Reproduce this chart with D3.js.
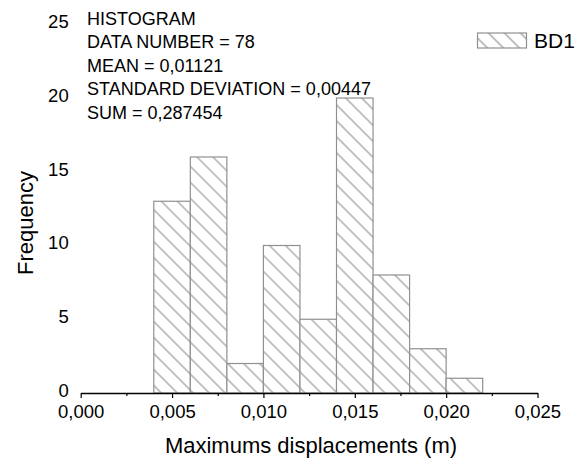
<!DOCTYPE html>
<html>
<head>
<meta charset="utf-8">
<script src="https://cdn.jsdelivr.net/npm/d3@7/dist/d3.min.js"></script>
<style>
  html, body { margin: 0; padding: 0; background: #fff; }
  svg { display: block; }
  text { font-family: "Liberation Sans", Arial, Helvetica, sans-serif; fill: #000; }
</style>
</head>
<body>
<svg id="chart" width="587" height="462"></svg>
<script>
// Histogram of maximum displacements: bin edges and counts per bin
const binEdges = [0.004, 0.006, 0.008, 0.010, 0.012, 0.014, 0.016, 0.018, 0.020, 0.022];
const binCounts = [13, 16, 2, 10, 5, 20, 8, 3, 1];
const seriesName = "BD1";

// Axis ticks
const xTicks = [0, 0.005, 0.010, 0.015, 0.020, 0.025];
const xMinorTicks = [0.0025, 0.0075, 0.0125, 0.0175, 0.0225];
const yTicks = [0, 5, 10, 15, 20, 25];

// Summary statistics block
const statLines = [
  "HISTOGRAM",
  "DATA NUMBER = 78",
  "MEAN = 0,01121",
  "STANDARD DEVIATION = 0,00447",
  "SUM = 0,287454"
];

const xTitle = "Maximums displacements (m)";
const yTitle = "Frequency";

const svg = d3.select("#chart");

const x = d3.scaleLinear().domain([0, 0.025]).range([80.7, 537.5]);
const y = d3.scaleLinear().domain([0, 25]).range([393, 24.25]);

// Diagonal hatch fill
const defs = svg.append("defs");
const hatch = defs.append("pattern")
  .attr("id", "hatch")
  .attr("patternUnits", "userSpaceOnUse")
  .attr("width", 11.3)
  .attr("height", 11.3)
  .attr("patternTransform", "rotate(-45)");
hatch.append("rect").attr("width", 11.3).attr("height", 11.3).attr("fill", "#fff");
hatch.append("line")
  .attr("x1", 5.65).attr("y1", 0).attr("x2", 5.65).attr("y2", 11.3)
  .attr("stroke", "#666").attr("stroke-width", 0.8);

// Bars
const bins = binCounts.map((c, i) => ({ x0: binEdges[i], x1: binEdges[i + 1], count: c }));
svg.append("g").selectAll("rect")
  .data(bins)
  .join("rect")
  .attr("x", d => x(d.x0))
  .attr("y", d => y(d.count))
  .attr("width", d => x(d.x1) - x(d.x0))
  .attr("height", d => y(0) - y(d.count))
  .attr("fill", "url(#hatch)")
  .attr("stroke", "#909090")
  .attr("stroke-width", 1.2);

// X axis: major ticks with labels, minor ticks without
const fmt = d => d3.format(".3f")(d).replace(".", ",");
const xAxis = svg.append("g")
  .attr("transform", `translate(0,${y(0)})`)
  .call(d3.axisBottom(x).tickValues(xTicks).tickSize(5).tickSizeOuter(0).tickPadding(6.8).tickFormat(fmt));
xAxis.select(".domain").attr("stroke", "#000").attr("stroke-width", 1.4);
xAxis.selectAll(".tick line").attr("stroke", "#000").attr("stroke-width", 1.2);
xAxis.selectAll("text").attr("font-size", 18.5).style("font-family", "'Liberation Sans', Arial, sans-serif");

const xMinor = svg.append("g")
  .attr("transform", `translate(0,${y(0)})`)
  .call(d3.axisBottom(x).tickValues(xMinorTicks).tickSize(3).tickSizeOuter(0).tickFormat(""));
xMinor.select(".domain").remove();
xMinor.selectAll(".tick line").attr("stroke", "#000").attr("stroke-width", 1.2);

// Y axis: labels only
const yAxis = svg.append("g")
  .attr("transform", `translate(${x(0)},0)`)
  .call(d3.axisLeft(y).tickValues(yTicks).tickSize(0).tickPadding(12));
yAxis.select(".domain").remove();
yAxis.selectAll("text")
  .attr("dy", "0.18em")
  .attr("font-size", 18.5)
  .style("font-family", "'Liberation Sans', Arial, sans-serif");

// Axis titles
svg.append("text")
  .attr("x", 311).attr("y", 453)
  .attr("text-anchor", "middle")
  .attr("font-size", 22)
  .text(xTitle);

svg.append("text")
  .attr("transform", "translate(33,223) rotate(-90)")
  .attr("text-anchor", "middle")
  .attr("font-size", 22)
  .text(yTitle);

// Statistics block
svg.append("g").selectAll("text")
  .data(statLines)
  .join("text")
  .attr("x", 87)
  .attr("y", (d, i) => 24.5 + i * 23.5)
  .attr("font-size", 18)
  .text(d => d);

// Legend
const legend = svg.append("g");
legend.append("rect")
  .attr("x", 477.5).attr("y", 33)
  .attr("width", 49).attr("height", 15)
  .attr("fill", "url(#hatch)")
  .attr("stroke", "#909090")
  .attr("stroke-width", 1.2);
legend.append("text")
  .attr("x", 534).attr("y", 48)
  .attr("font-size", 21)
  .text(seriesName);
</script>
</body>
</html>
